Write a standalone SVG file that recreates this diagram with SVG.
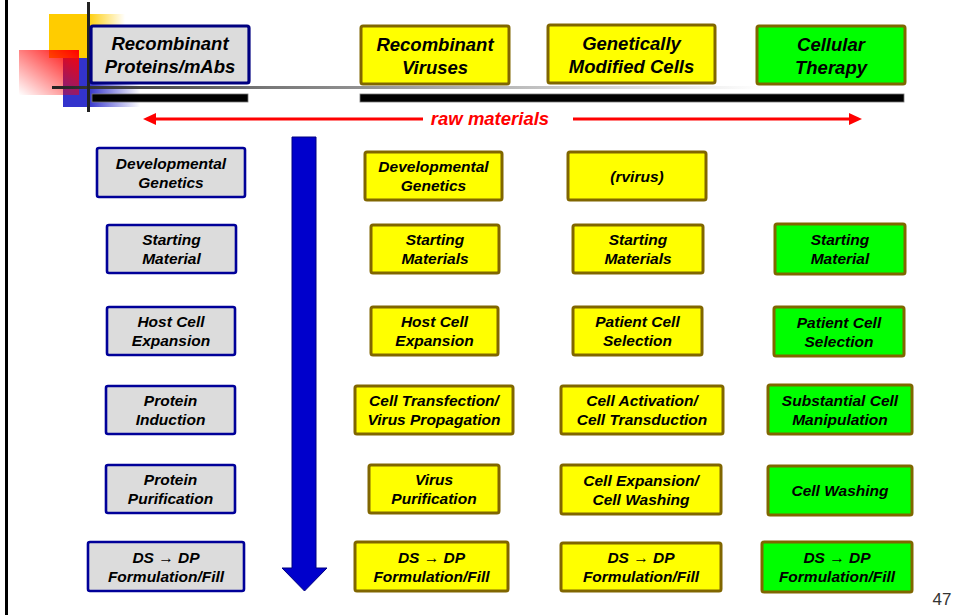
<svg xmlns="http://www.w3.org/2000/svg" width="955" height="615" viewBox="0 0 955 615">
  <style>
    .t { font-family: "Liberation Sans", Arial, "DejaVu Sans", sans-serif; font-weight: bold; font-style: italic; fill: #000; text-anchor: middle; }
    .hd { font-size: 18.5px; }
    .bd { font-size: 15.5px; }
    .gray { fill: #dcdcdc; stroke: #000099; stroke-width: 2.6; }
    .yel { fill: #ffff00; stroke: #806600; stroke-width: 3; }
    .grn { fill: #00ff00; stroke: #806600; stroke-width: 3; }
    .hnavy { fill: #dcdcdc; stroke: #000080; stroke-width: 3.2; }
    .bar { fill: #000; stroke: #777; stroke-width: 0.8; }
    .red { stroke: #ff0000; stroke-width: 3.2; fill: none; }
  </style>
  <defs>
    <linearGradient id="yelFade" x1="0" y1="0" x2="1" y2="0">
      <stop offset="0" stop-color="#ffcc00"/>
      <stop offset="0.5" stop-color="#ffcc00"/>
      <stop offset="1" stop-color="#ffcc00" stop-opacity="0"/>
    </linearGradient>
    <linearGradient id="bluFade" x1="0" y1="0" x2="1" y2="0">
      <stop offset="0" stop-color="#3333cc"/>
      <stop offset="0.33" stop-color="#3333cc"/>
      <stop offset="1" stop-color="#3333cc" stop-opacity="0"/>
    </linearGradient>
    <linearGradient id="redFade" x1="1" y1="0" x2="0" y2="1">
      <stop offset="0" stop-color="#ff0000"/>
      <stop offset="1" stop-color="#ff0000" stop-opacity="0"/>
    </linearGradient>
    <linearGradient id="rule" x1="0" y1="0" x2="1" y2="0">
      <stop offset="0" stop-color="#222"/>
      <stop offset="0.05" stop-color="#333"/>
      <stop offset="0.3" stop-color="#777"/>
      <stop offset="0.65" stop-color="#bbb"/>
      <stop offset="1" stop-color="#fff"/>
    </linearGradient>
  </defs>

  <rect width="955" height="615" fill="#fff"/>

  <!-- slide frame and corner decoration -->
  <rect x="5" y="0" width="3" height="615" fill="#000"/>
  <rect x="49" y="14" width="76" height="44" fill="url(#yelFade)"/>
  <rect x="63" y="58" width="77" height="49" fill="url(#bluFade)"/>
  <rect x="19" y="50" width="60" height="45" fill="url(#redFade)"/>
  <rect x="52" y="86" width="710" height="3" fill="url(#rule)"/>
  <rect x="87" y="2" width="3" height="110" fill="#222"/>

  <!-- header bars -->
  <rect class="bar" x="92" y="94" width="156" height="8"/>
  <rect class="bar" x="360" y="94" width="544" height="8"/>

  <!-- connectors -->
  <g id="connectors">
    <g id="raw-materials">
      <line class="red" x1="152" y1="119" x2="423" y2="119"/>
      <polygon points="143,119 156,113 156,125" fill="#ff0000"/>
      <line class="red" x1="573" y1="119" x2="852" y2="119"/>
      <polygon points="862,119 849,113 849,125" fill="#ff0000"/>
      <text class="t" x="490" y="124.5" style="font-size:18.5px;fill:#ff0000">raw materials</text>
    </g>
    <polygon id="flow-arrow" points="292,137 316,137 316,568 327,568 304.5,591 282,568 292,568" fill="#0000cc" stroke="#000080" stroke-width="1"/>
  </g>

  <!-- column headers -->
  <g id="h-proteins"><rect class="hnavy" x="91" y="26" width="158" height="57" rx="2"/>
    <text class="t hd" x="170" y="50">Recombinant</text><text class="t hd" x="170" y="73">Proteins/mAbs</text></g>
  <g id="h-viruses"><rect class="yel" x="361" y="26" width="148" height="58" rx="2"/>
    <text class="t hd" x="435" y="51">Recombinant</text><text class="t hd" x="435" y="74">Viruses</text></g>
  <g id="h-gmc"><rect class="yel" x="548" y="25" width="167" height="58" rx="2"/>
    <text class="t hd" x="631.5" y="50">Genetically</text><text class="t hd" x="631.5" y="73">Modified Cells</text></g>
  <g id="h-cellular"><rect class="grn" x="757" y="26" width="148" height="58" rx="2"/>
    <text class="t hd" x="831" y="51">Cellular</text><text class="t hd" x="831" y="74">Therapy</text></g>

  <!-- recombinant proteins / mAbs -->
  <g id="p-devgen"><rect class="gray" x="97" y="148" width="148" height="49" rx="2"/>
    <text class="t bd" x="171" y="169">Developmental</text><text class="t bd" x="171" y="188">Genetics</text></g>
  <g id="p-start"><rect class="gray" x="107" y="225" width="129" height="48" rx="2"/>
    <text class="t bd" x="171.5" y="245">Starting</text><text class="t bd" x="171.5" y="264">Material</text></g>
  <g id="p-host"><rect class="gray" x="107" y="307" width="128" height="48" rx="2"/>
    <text class="t bd" x="171" y="327">Host Cell</text><text class="t bd" x="171" y="346">Expansion</text></g>
  <g id="p-induct"><rect class="gray" x="106" y="386" width="129" height="48" rx="2"/>
    <text class="t bd" x="170.5" y="406">Protein</text><text class="t bd" x="170.5" y="425">Induction</text></g>
  <g id="p-purif"><rect class="gray" x="106" y="465" width="129" height="48" rx="2"/>
    <text class="t bd" x="170.5" y="485">Protein</text><text class="t bd" x="170.5" y="504">Purification</text></g>
  <g id="p-dsdp"><rect class="gray" x="88" y="542" width="156" height="49" rx="2"/>
    <text class="t bd" x="166" y="562.5">DS → DP</text><text class="t bd" x="166" y="581.5">Formulation/Fill</text></g>

  <!-- recombinant viruses -->
  <g id="v-devgen"><rect class="yel" x="365" y="152" width="137" height="48" rx="2"/>
    <text class="t bd" x="433.5" y="172">Developmental</text><text class="t bd" x="433.5" y="191">Genetics</text></g>
  <g id="v-start"><rect class="yel" x="371" y="225" width="128" height="48" rx="2"/>
    <text class="t bd" x="435" y="245">Starting</text><text class="t bd" x="435" y="264">Materials</text></g>
  <g id="v-host"><rect class="yel" x="371" y="307" width="127" height="48" rx="2"/>
    <text class="t bd" x="434.5" y="327">Host Cell</text><text class="t bd" x="434.5" y="346">Expansion</text></g>
  <g id="v-transfect"><rect class="yel" x="355" y="386" width="158" height="48" rx="2"/>
    <text class="t bd" x="434" y="406">Cell Transfection/</text><text class="t bd" x="434" y="425">Virus Propagation</text></g>
  <g id="v-purif"><rect class="yel" x="369" y="465" width="130" height="48" rx="2"/>
    <text class="t bd" x="434" y="485">Virus</text><text class="t bd" x="434" y="504">Purification</text></g>
  <g id="v-dsdp"><rect class="yel" x="355" y="542" width="153" height="49" rx="2"/>
    <text class="t bd" x="431.5" y="562.5">DS → DP</text><text class="t bd" x="431.5" y="581.5">Formulation/Fill</text></g>

  <!-- genetically modified cells -->
  <g id="g-rvirus"><rect class="yel" x="568" y="152" width="138" height="48" rx="2"/>
    <text class="t bd" x="637" y="181.5">(rvirus)</text></g>
  <g id="g-start"><rect class="yel" x="573" y="225" width="130" height="48" rx="2"/>
    <text class="t bd" x="638" y="245">Starting</text><text class="t bd" x="638" y="264">Materials</text></g>
  <g id="g-select"><rect class="yel" x="573" y="307" width="129" height="48" rx="2"/>
    <text class="t bd" x="637.5" y="327">Patient Cell</text><text class="t bd" x="637.5" y="346">Selection</text></g>
  <g id="g-activate"><rect class="yel" x="561" y="386" width="162" height="48" rx="2"/>
    <text class="t bd" x="642" y="406">Cell Activation/</text><text class="t bd" x="642" y="425">Cell Transduction</text></g>
  <g id="g-expand"><rect class="yel" x="561" y="465" width="160" height="49" rx="2"/>
    <text class="t bd" x="641" y="485.5">Cell Expansion/</text><text class="t bd" x="641" y="504.5">Cell Washing</text></g>
  <g id="g-dsdp"><rect class="yel" x="561" y="543" width="160" height="48" rx="2"/>
    <text class="t bd" x="641" y="563">DS → DP</text><text class="t bd" x="641" y="582">Formulation/Fill</text></g>

  <!-- cellular therapy -->
  <g id="c-start"><rect class="grn" x="775" y="224" width="130" height="50" rx="2"/>
    <text class="t bd" x="840" y="245">Starting</text><text class="t bd" x="840" y="264">Material</text></g>
  <g id="c-select"><rect class="grn" x="774" y="307" width="130" height="49" rx="2"/>
    <text class="t bd" x="839" y="327.5">Patient Cell</text><text class="t bd" x="839" y="346.5">Selection</text></g>
  <g id="c-manip"><rect class="grn" x="768" y="385" width="144" height="49" rx="2"/>
    <text class="t bd" x="840" y="405.5">Substantial Cell</text><text class="t bd" x="840" y="424.5">Manipulation</text></g>
  <g id="c-wash"><rect class="grn" x="768" y="466" width="144" height="49" rx="2"/>
    <text class="t bd" x="840" y="496">Cell Washing</text></g>
  <g id="c-dsdp"><rect class="grn" x="762" y="542" width="150" height="50" rx="2"/>
    <text class="t bd" x="837" y="563">DS → DP</text><text class="t bd" x="837" y="582">Formulation/Fill</text></g>

  <!-- page number -->
  <text x="942" y="605" style="font-family:'Liberation Sans', Arial, sans-serif;font-size:17px;fill:#333;text-anchor:middle">47</text>
</svg>
